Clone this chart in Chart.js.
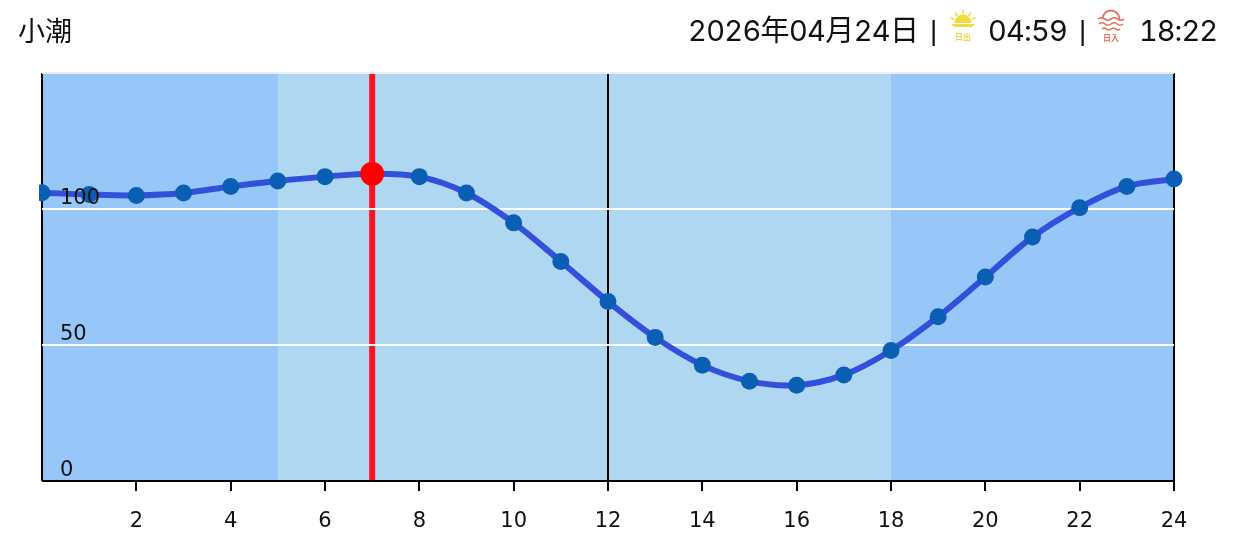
<!DOCTYPE html>
<html>
<head>
<meta charset="utf-8">
<script src="https://cdn.jsdelivr.net/npm/chart.js@4"></script>
<style>
  html, body { margin: 0; padding: 0; background: #fff; }
  #wrap { position: relative; width: 1233px; height: 560px; overflow: hidden; }
  #tide { position: absolute; left: 0; top: 0; }
  .hd { position: absolute; top: 12px; line-height: 38px; color: #111; white-space: nowrap;
        font-family: Inter, "Noto Sans CJK JP", sans-serif; font-size: 29px;
        font-variant-numeric: tabular-nums; }
  .sep { font-family: "Liberation Sans", sans-serif; font-size: 28px; }
  .ico { position: absolute; top: 8px; }
</style>
</head>
<body>
<div id="wrap">
  <canvas id="tide" width="1233" height="560"></canvas>
  <div class="hd" style="left:18px;top:11px;font-size:27px;font-family:'Noto Sans CJK JP',sans-serif">小潮</div>
  <div class="hd" style="left:688px;letter-spacing:-0.65px">2026年04月24日</div>
  <div class="hd sep" style="left:930px">|</div>
  <div class="hd" style="left:988px;letter-spacing:-0.8px">04:59</div>
  <div class="hd sep" style="left:1079px">|</div>
  <div class="hd" style="left:1139px;letter-spacing:-1px">18:22</div>
  <svg class="ico" style="left:948px" width="30" height="36" viewBox="0 0 30 36">
    <path d="M6.5 15 A8.5 8.5 0 0 1 23.5 15 Z" fill="#f1dc3e"/>
    <path d="M3 16 H27 L24 19 H6 Z" fill="#f1dc3e"/>
    <path d="M15 2V5.5M7 4.5L9.5 8M23 4.5L20.5 8M2.5 9.5L6 11.5M27.5 9.5L24 11.5" stroke="#f1dc3e" stroke-width="1.6"/>
    <text x="15" y="32" text-anchor="middle" font-size="8" font-weight="700" fill="#ecd94a" font-family="Noto Sans CJK JP">日出</text>
  </svg>
  <svg class="ico" style="left:1097px" width="28" height="36" viewBox="0 0 28 36">
    <path d="M5.5 11 A8.5 8.5 0 0 1 22.5 11" fill="none" stroke="#e8705e" stroke-width="1.8"/>
    <path d="M1 11q3.25 -2.5 6.5 0t6.5 0t6.5 0t6.5 0M2 16q3 -2.5 6 0t6 0t6 0t6 0M5 21q2.25 -2 4.5 0t4.5 0t4.5 0t4.5 0" fill="none" stroke="#e8705e" stroke-width="1.6"/>
    <text x="14" y="33" text-anchor="middle" font-size="8" font-weight="700" fill="#e8705e" font-family="Noto Sans CJK JP">日入</text>
  </svg>
</div>

<script>
// hourly tide height
const hours = [0,1,2,3,4,5,6,7,8,9,10,11,12,13,14,15,16,17,18,19,20,21,22,23,24];
const tide  = [106,105.3,105,105.9,108.3,110.3,111.9,113,111.9,105.9,94.9,80.7,66,52.8,42.6,36.7,35.2,39,48,60.4,75,89.7,100.5,108.3,111];

const dayStart = 5;
const dayEnd   = 18;
const nowHour  = 7;
const nowTide  = 113;

const NIGHT_COLOR = "#97c7f8";
const DAY_COLOR   = "#b0d7f1";
const TICK_FONT   = { family: "'DejaVu Sans', sans-serif", size: 21 };

// ── Day/night bands and the red "now" line, under the grid ───────
const backdrop = {
  id: "backdrop",
  beforeDraw(chart) {
    const { ctx, chartArea: a, scales: { x } } = chart;
    ctx.save();
    ctx.fillStyle = NIGHT_COLOR;
    ctx.fillRect(a.left, a.top, a.width, a.height);
    ctx.fillStyle = DAY_COLOR;
    const x0 = x.getPixelForValue(dayStart);
    ctx.fillRect(x0, a.top, x.getPixelForValue(dayEnd) - x0, a.height);
    ctx.fillStyle = "#ff1020";
    ctx.fillRect(x.getPixelForValue(nowHour) - 3, a.top, 6, a.height);
    ctx.restore();
  },
};

new Chart(document.getElementById("tide"), {
  type: "line",
  data: {
    datasets: [
      {
        data: [{ x: nowHour, y: nowTide }],
        showLine: false,
        pointRadius: 12,
        pointBackgroundColor: "#ff0000",
        pointBorderWidth: 0,
        clip: false,
        order: 0,
      },
      {
        data: hours.map((h, i) => ({ x: h, y: tide[i] })),
        borderColor: "#3350dc",
        borderWidth: 6,
        tension: 0.35,
        pointRadius: 8.5,
        pointBackgroundColor: "#0a5fb4",
        pointBorderWidth: 0,
        clip: { left: 3, right: 10, top: 0, bottom: 0 },
        order: 1,
      },
    ],
  },
  options: {
    responsive: false,
    animation: false,
    events: [],
    layout: { padding: { left: 42, right: 59, top: 73, bottom: 0 } },
    plugins: { legend: { display: false }, tooltip: { enabled: false } },
    scales: {
      x: {
        type: "linear",
        min: 0,
        max: 24,
        afterFit: s => { s.height = 79; },
        border: { display: false },
        grid: {
          color: c => (c.tick && c.tick.value % 12 === 0 ? "#000" : "rgba(0,0,0,0)"),
          lineWidth: 2,
          tickColor: c => (c.tick && c.tick.value === 0 ? "rgba(0,0,0,0)" : "#000"),
          tickWidth: 2,
          tickLength: 10,
        },
        ticks: {
          stepSize: 2,
          autoSkip: false,
          maxRotation: 0,
          color: "#111",
          font: TICK_FONT,
          padding: 18,
          callback: v => (v === 0 ? "" : v),
        },
      },
      y: {
        min: 0,
        max: 150,
        afterFit: s => { s.width = 0; },
        border: { display: false },
        grid: {
          color: c => (c.tick.value === 0 ? "#000" : c.tick.value === 150 ? "#eeeeee" : "#fff"),
          lineWidth: 2,
          drawTicks: false,
        },
        ticks: {
          z: 1,
          stepSize: 50,
          mirror: true,
          align: "end",
          padding: 18,
          color: "#111",
          font: TICK_FONT,
          callback: v => (v === 150 ? "" : v),
        },
      },
    },
  },
  plugins: [backdrop],
});
</script>
</body>
</html>
